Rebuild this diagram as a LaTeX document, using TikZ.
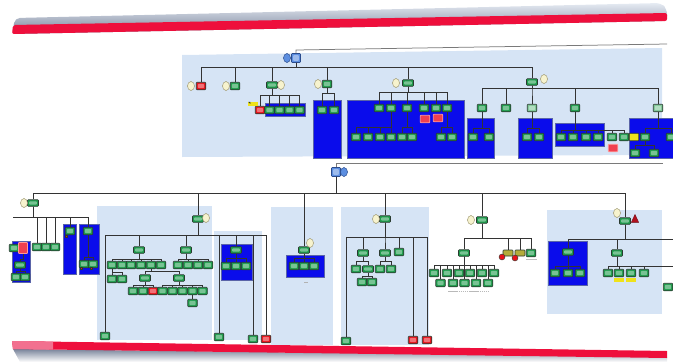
\documentclass[tikz,border=0pt]{standalone}
\usetikzlibrary{shapes.geometric}
\definecolor{bandred}{HTML}{EE0F3C}
\definecolor{bandpink}{HTML}{F2708F}
\definecolor{panelc}{HTML}{D6E4F5}
\definecolor{brectc}{HTML}{0A0CEB}
\definecolor{brectline}{HTML}{5A64A8}
\definecolor{gfill}{HTML}{1F9C4C}
\definecolor{lfill}{HTML}{7FC897}
\definecolor{rfill}{HTML}{E8131C}
\definecolor{hfill}{HTML}{F04050}
\definecolor{yfill}{HTML}{EFE21A}
\definecolor{ofill}{HTML}{B4AC3A}
\definecolor{rootfill}{HTML}{5C8EE0}
\definecolor{rootline}{HTML}{2B4C8C}
\definecolor{cfill}{HTML}{F7F3CE}
\definecolor{cline}{HTML}{9E9872}
\definecolor{boxline}{HTML}{2A3A30}
\definecolor{edgec}{HTML}{333333}
\definecolor{greyline}{HTML}{7A7A7A}
\definecolor{shadetop}{HTML}{E6EBF3}
\definecolor{shadebot}{HTML}{78839A}
\definecolor{flask}{HTML}{B0101E}
\newcommand\tkids[3]{\foreach \k in {#3}{\draw[edge] (#1.south) -- (#1.south |- 0,#2) -| (\k.north);}}
\begin{document}
\begin{tikzpicture}[x=1pt,y=-1pt,
  nbox/.style={rectangle, inner sep=0pt, minimum width=9.5pt, minimum height=7.5pt, draw=boxline, line width=0.6pt, rounded corners=0.8pt},
  hl/.style={path picture={\fill[white,opacity=0.4] ([xshift=1.7pt,yshift=-1.7pt]path picture bounding box.north west) rectangle ([xshift=-1.7pt,yshift=1.7pt]path picture bounding box.south east);}},
  gb/.style={nbox, fill=gfill, hl},
  pb/.style={nbox, fill=gfill, minimum width=11pt, minimum height=6.5pt, hl},
  lb/.style={nbox, fill=lfill, hl},
  rb/.style={nbox, fill=rfill, hl},
  hb/.style={nbox, fill=hfill, draw=white!60!red, line width=0.8pt},
  yb/.style={nbox, fill=yfill},
  ob/.style={nbox, fill=ofill, minimum width=10pt, minimum height=6pt},
  bb/.style={nbox, fill=rootfill, draw=rootline, minimum width=9pt, minimum height=9pt, hl},
  yc/.style={ellipse, inner sep=0pt, minimum width=7pt, minimum height=9pt, fill=cfill, draw=cline, line width=0.5pt},
  bc/.style={yc, fill=rootfill, draw=rootline},
  rc/.style={circle, inner sep=0pt, minimum size=6pt, fill=rfill, draw=boxline, line width=0.4pt},
  ylab/.style={rectangle, inner sep=0pt, minimum width=10pt, minimum height=4pt, fill=yfill},
  rdot/.style={rectangle, inner sep=0pt, minimum size=2.5pt, fill=rfill, draw=boxline, line width=0.3pt},
  brect/.style={fill=brectc, draw=brectline, line width=0.6pt},
  edge/.style={draw=edgec, line width=0.75pt},
  faint/.style={draw=gray!55, line width=1pt, dash pattern=on 1.5pt off 0.6pt}]
\useasboundingbox (0,0) rectangle (673,362);
% ---------- bands ----------
\shade[top color=shadetop, bottom color=shadebot, rounded corners=5pt] (12,34) -- (15,18) -- (661,3) -- (667,9) -- (667,21) -- cycle;
\fill[bandred, rounded corners=2pt] (12,34) -- (13,25) -- (667,13) -- (667,21) -- cycle;
\shade[top color=shadebot, bottom color=white] (13,349) -- (667,357) -- (667,362) -- (20,362) -- cycle;
\fill[bandred] (12,341) -- (667,351) -- (667,358) -- (13,349) -- cycle;
\fill[bandpink] (12,341) -- (53,341.6) -- (53,349.6) -- (13,349) -- cycle;
% ---------- panels ----------
\fill[panelc] (182,55) -- (662,48) -- (662,155) -- (182,157) -- cycle;
\fill[panelc] (97,206) rectangle (212,340);
\fill[panelc] (214,231) rectangle (262,340);
\fill[panelc] (271,207) rectangle (333,345);
\fill[panelc] (341,207) rectangle (429,345);
\fill[panelc] (547,210) rectangle (662,314);
% ---------- blue group rectangles ----------
\path[brect] (265,103) rectangle (305,116);
\path[brect] (313,100) rectangle (341,158);
\path[brect] (347,100) rectangle (464,158);
\path[brect] (467,118) rectangle (494,158);
\path[brect] (518,118) rectangle (552,158);
\path[brect] (555,123) rectangle (604,146);
\path[brect] (629,118) rectangle (676,158);
\path[brect] (12,241) rectangle (30,282);
\path[brect] (63,224) rectangle (76,274);
\path[brect] (79,224) rectangle (99,274);
\path[brect] (221,244) rectangle (252,280);
\path[brect] (286,255) rectangle (324,277);
\path[brect] (548,241) rectangle (587,285);
% ================= TOP CHART =================
\node[bb] (troot) at (296,58) {};
\node[bc] (tcirc) at (287,58) {};
\coordinate (tend) at (667,44);
\draw[edge, draw=greyline] (troot.north) -- (troot.north |- 0,50) -- (tend);
\node[rb] (t1) at (201,86) {}; \node[yc] (ct1) at (191,86) {};
\node[gb] (t2) at (235,86) {}; \node[yc] (ct2) at (226,86) {};
\node[pb] (t3) at (272,85) {}; \node[yc] (ct3) at (281,85) {};
\node[gb] (t4) at (327,84) {}; \node[yc] (ct4) at (318,84) {};
\node[pb] (t5) at (408,83) {}; \node[yc] (ct5) at (396,83) {};
\node[pb] (t6) at (532,82) {}; \node[yc] (ct6) at (544,79) {};
\tkids{troot}{67}{t1,t2,t3,t4,t5,t6}
% t3
\node[rb] (t3a) at (260,110) {};
\node[gb] (t3b) at (269.5,110) {};
\node[gb] (t3c) at (279.5,110) {};
\node[gb] (t3d) at (289.5,110) {};
\node[gb] (t3e) at (299.5,110) {};
\tkids{t3}{95}{t3a,t3b,t3c,t3d,t3e}
\node[ylab] (ylab1) at (253,104) {};
\fill[boxline] (ylab1.north west) ++(0.5pt,0) -- ++(2pt,0) -- ++(0,-2pt) -- cycle;
% t4
\node[gb] (t4a) at (322,110) {};
\node[gb] (t4b) at (334,110) {};
\tkids{t4}{93}{t4a,t4b}
% t5
\node[gb] (t5a) at (379,108) {};
\node[gb] (t5b) at (391,108) {};
\node[gb] (t5c) at (407,108) {};
\node[gb] (t5d) at (424,108) {};
\node[gb] (t5e) at (436,108) {};
\node[gb] (t5f) at (447,108) {};
\tkids{t5}{92}{t5a,t5b,t5c,t5d,t5e,t5f}
\node[hb] (t5r1) at (425,119) {};
\node[hb] (t5r2) at (438,118) {};
\node[gb] (t5b1) at (356,137) {};
\node[gb] (t5b2) at (368,137) {};
\node[gb] (t5b3) at (380,137) {};
\node[gb] (t5b4) at (391,137) {};
\tkids{t5b}{127}{t5b1,t5b2,t5b3,t5b4}
\node[gb] (t5c1) at (402,137) {};
\node[gb] (t5c2) at (412,137) {};
\tkids{t5c}{127}{t5c1,t5c2}
\node[gb] (t5f1) at (441,137) {};
\node[gb] (t5f2) at (452,137) {};
\tkids{t5f}{127}{t5f1,t5f2}
% t6
\node[gb] (t6a) at (482,108) {};
\node[gb] (t6b) at (506,108) {};
\node[lb] (t6c) at (532,108) {};
\node[gb] (t6d) at (575,108) {};
\node[lb] (t6e) at (658,108) {};
\tkids{t6}{88}{t6a,t6b,t6c,t6d,t6e}
\node[gb] (t6a1) at (473,137) {};
\node[gb] (t6a2) at (489,137) {};
\tkids{t6a}{128}{t6a1,t6a2}
\node[gb] (t6c1) at (527,137) {};
\node[gb] (t6c2) at (539,137) {};
\tkids{t6c}{128}{t6c1,t6c2}
\node[gb] (t6d1) at (561,137) {};
\node[gb] (t6d2) at (573,137) {};
\node[gb] (t6d3) at (586,137) {};
\node[gb] (t6d4) at (598,137) {};
\node[gb] (t6d5) at (612,137) {};
\node[gb] (t6d6) at (624,137) {};
\tkids{t6d}{130}{t6d1,t6d2,t6d3,t6d4,t6d5,t6d6}
\node[hb] (t6r) at (613,148) {};
\node[yb] (t6y) at (634,137) {};
\node[gb] (t6e1) at (645,137) {};
\node[gb] (t6e2) at (671,137) {};
\tkids{t6e}{128}{t6e1,t6e2}
\node[gb] (t6e1a) at (635,153) {};
\node[gb] (t6e1b) at (654,153) {};
\tkids{t6e1}{145}{t6e1a,t6e1b}
% ================= LOWER CHART =================
\node[bb] (lroot) at (336,172) {};
\node[bc] (lcirc) at (344,172) {};
\coordinate (lend) at (663,163);
\draw[edge, draw=greyline] (lroot.north) |- (lend);
\node[pb] (A) at (33,203) {}; \node[yc] (cA) at (24,203) {};
\node[pb] (B) at (198,219) {}; \node[yc] (cB) at (206,218) {};
\node[pb] (C) at (304,250) {}; \node[yc] (cC) at (310,243) {};
\node[pb] (D) at (385,219) {}; \node[yc] (cD) at (376,219) {};
\node[pb] (E) at (482,220) {}; \node[yc] (cE) at (471,220) {};
\node[pb] (F) at (625,221) {}; \node[yc] (cF) at (617,213) {};
\node[isosceles triangle, shape border rotate=90, isosceles triangle apex angle=50, inner sep=0pt, minimum height=8pt, minimum width=6pt, fill=flask, draw=flask!60!black, line width=0.3pt] (flaskF) at (635,220) {};
\tkids{lroot}{193}{A,B,C,D,E,F}
% A
\coordinate (Aleft) at (13,217);
\draw[edge] (A.south) |- (Aleft);
\node[gb] (A1) at (37,247) {};
\node[gb] (A2) at (46,247) {};
\node[gb] (A3) at (55,247) {};
\node[gb] (A4) at (70,231) {};
\node[gb] (A5) at (88,231) {};
\tkids{A}{217}{A1,A2,A3,A4,A5}
\node[gb] (A0) at (14,248) {};
\node[hb, minimum width=9pt, minimum height=11pt] (Ar) at (23,248) {};
\node[pb] (A6) at (20,265) {};
\tkids{Ar}{259}{A6}
\node[gb] (A6a) at (16,277) {};
\node[gb] (A6b) at (25,277) {};
\tkids{A6}{271}{A6a,A6b}
\node[rdot] (A4r) at (66,236) {};
\node[gb] (A5a) at (84,264) {};
\node[gb] (A5b) at (93,264) {};
\tkids{A5}{257}{A5a,A5b}
\node[rdot] (A5r1) at (81,268) {};
\node[rdot] (A5r2) at (91,268) {};
% B
\node[gb] (B0) at (105,336) {};
\node[pb] (B1) at (139,250) {};
\node[pb] (B2) at (186,250) {};
\node[gb] (B3) at (219,337) {};
\node[pb] (B4) at (236,250) {};
\node[gb] (B5) at (253,339) {};
\node[rb] (B6) at (266,339) {};
\tkids{B}{235}{B0,B1,B2,B3,B4,B5,B6}
\node[gb] (B1a) at (112,265) {};
\node[gb] (B1b) at (122,265) {};
\node[gb] (B1c) at (131,265) {};
\node[gb] (B1d) at (141,265) {};
\node[gb] (B1e) at (151,265) {};
\node[gb] (B1f) at (161,265) {};
\tkids{B1}{259}{B1a,B1b,B1c,B1d,B1e,B1f}
\node[gb] (B1a1) at (112,279) {};
\node[gb] (B1a2) at (122,279) {};
\tkids{B1a}{272}{B1a1,B1a2}
\node[pb] (Bx) at (145,278) {};
\node[pb] (By) at (179,278) {};
\tkids{B1e}{271}{Bx,By}
\node[gb] (Bx1) at (133,291) {};
\node[gb] (Bx2) at (143,291) {};
\node[rb] (Bx3) at (153,291) {};
\tkids{Bx}{285}{Bx1,Bx2,Bx3}
\node[gb] (By1) at (162.5,291) {};
\node[gb] (By2) at (172.5,291) {};
\node[gb] (By3) at (182.5,291) {};
\node[gb] (By4) at (192.5,291) {};
\node[gb] (By5) at (202.5,291) {};
\tkids{By}{285}{By1,By2,By3,By4,By5}
\node[gb] (Bz) at (192.5,303) {};
\tkids{By4}{298}{Bz}
\node[gb] (B2a) at (178,265) {};
\node[gb] (B2b) at (188,265) {};
\node[gb] (B2c) at (198,265) {};
\node[gb] (B2d) at (208,265) {};
\tkids{B2}{259}{B2a,B2b,B2c,B2d}
\node[gb] (B4a) at (226,266) {};
\node[gb] (B4b) at (236,266) {};
\node[gb] (B4c) at (246,266) {};
\tkids{B4}{258}{B4a,B4b,B4c}
% C
\node[gb] (C1) at (294,266) {};
\node[gb] (C2) at (304,266) {};
\node[gb] (C3) at (314,266) {};
\tkids{C}{258}{C1,C2,C3}
\draw[draw=gray!60, line width=0.8pt] (304,282) -- (308,282);
% D
\node[gb] (D1) at (346,341) {};
\node[pb] (D2) at (363,253) {};
\node[pb] (D3) at (385,253) {};
\node[gb] (D4) at (399,252) {};
\node[rb] (D5) at (413,340) {};
\node[rb] (D6) at (427,340) {};
\tkids{D}{237}{D1,D2,D3,D4,D5,D6}
\node[gb] (D2a) at (356,269) {};
\node[pb] (D2b) at (368,269) {};
\tkids{D2}{261}{D2a,D2b}
\node[gb] (D2b1) at (362,282) {};
\node[gb] (D2b2) at (372,282) {};
\tkids{D2b}{276}{D2b1,D2b2}
\node[gb] (D3a) at (380,269) {};
\node[gb] (D3b) at (391,269) {};
\tkids{D3}{261}{D3a,D3b}
% E
\node[pb] (E1) at (464,253) {};
\node[ob] (E2) at (508,253) {};
\node[ob] (E3) at (520,253) {};
\node[gb] (E4) at (531,253) {};
\tkids{E}{238}{E1,E2,E3,E4}
\node[rc] (E2r) at (502,257) {};
\node[rc] (E3r) at (515,258) {};
\draw[draw=gray!50, line width=0.8pt] (526,259) -- (537,259);
\node[gb] (E1a) at (434,273) {};
\node[gb] (E1b) at (447,273) {};
\node[gb] (E1c) at (459,273) {};
\node[gb] (E1d) at (470,273) {};
\node[gb] (E1e) at (482,273) {};
\node[gb] (E1f) at (494,273) {};
\node[gb] (E1g) at (440.5,283) {};
\node[gb] (E1h) at (453,283) {};
\node[gb] (E1i) at (464.5,283) {};
\node[gb] (E1j) at (476,283) {};
\node[gb] (E1k) at (488,283) {};
\tkids{E1}{265}{E1a,E1b,E1c,E1d,E1e,E1f,E1g,E1h,E1i,E1j,E1k}
\draw[faint] (448,291) -- (488,291);
% F
\node[pb] (F1) at (568,252) {};
\node[pb] (F2) at (617,253) {};
\coordinate (Fright) at (673,239);
\tkids{F}{239}{F1,F2}
\draw[edge] (F.south) |- (Fright);
\node[gb] (F1a) at (555,273) {};
\node[gb] (F1b) at (568,273) {};
\node[gb] (F1c) at (580,273) {};
\tkids{F1}{266}{F1a,F1b,F1c}
\node[gb] (F2a) at (608,273) {};
\node[gb] (F2b) at (619,273) {};
\node[gb] (F2c) at (631,273) {};
\node[gb] (F2d) at (644,273) {};
\coordinate (F2right) at (673,266);
\tkids{F2}{266}{F2a,F2b,F2c,F2d}
\draw[edge] (F2.south) |- (F2right);
\node[ylab] (F2yl1) at (619,280) {};
\node[ylab] (F2yl2) at (631,280) {};
\node[gb] (Fedge) at (668,287) {};
\end{tikzpicture}
\end{document}
